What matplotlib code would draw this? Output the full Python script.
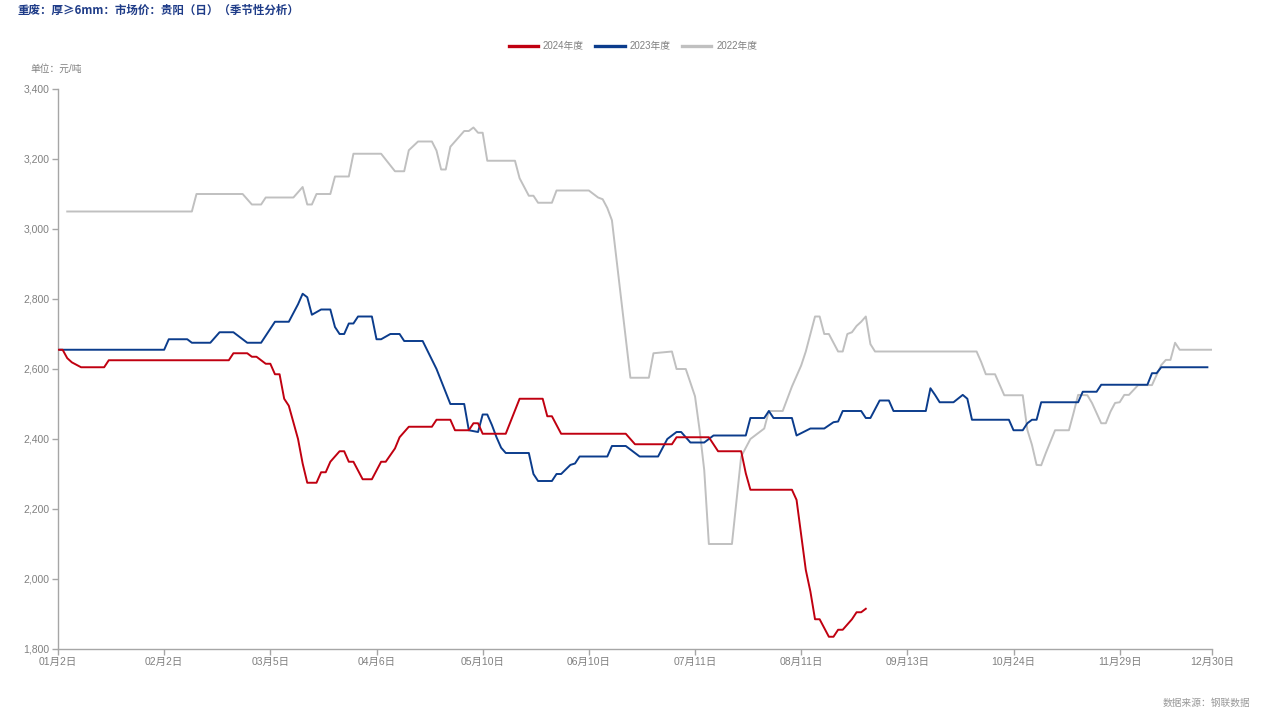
import matplotlib
matplotlib.use("Agg")
import matplotlib.pyplot as plt
from matplotlib.ticker import FuncFormatter

plt.rcParams['font.family'] = ['Liberation Sans', 'Noto Sans CJK SC']

# 交易日序号（0 = 01月2日）和价格（元/吨）
days_2024 = [0, 1, 2, 3, 5, 10, 11, 37, 38, 41, 42, 43, 45, 46, 47, 48, 49, 50, 52, 53, 54,
             56, 57, 58, 59, 61, 62, 63, 64, 66, 68, 70, 71, 73, 74, 76, 81, 82, 85, 86, 89,
             90, 91, 92, 97, 100, 105, 106, 107, 109, 123, 125, 133, 134, 141, 142, 143, 148,
             149, 150, 159, 160, 162, 163, 164, 165, 167, 168, 169, 170, 172, 173, 174, 175]
price_2024 = [2655, 2655, 2631, 2619, 2605, 2605, 2625, 2625, 2645, 2645, 2635, 2635, 2615, 2615,
              2585, 2585, 2515, 2495, 2400, 2330, 2275, 2275, 2305, 2305, 2335, 2365, 2365, 2335,
              2335, 2285, 2285, 2335, 2335, 2373, 2405, 2435, 2435, 2455, 2455, 2425, 2425, 2445,
              2445, 2415, 2415, 2515, 2515, 2465, 2465, 2415, 2415, 2385, 2385, 2405, 2405, 2385,
              2365, 2365, 2302, 2255, 2255, 2226, 2026, 1964, 1885, 1885, 1835, 1835, 1855, 1855,
              1885, 1905, 1905, 1915]

days_2023 = [0, 23, 24, 28, 29, 33, 35, 38, 41, 44, 47, 50, 52, 53, 54, 55, 57, 59, 60, 61, 62,
             63, 64, 65, 68, 69, 70, 72, 74, 75, 79, 82, 85, 88, 89, 91, 92, 93, 94, 95, 96, 97,
             102, 103, 104, 107, 108, 109, 111, 112, 113, 119, 120, 123, 126, 130, 132, 134, 135,
             137, 140, 142, 149, 150, 153, 154, 155, 159, 160, 163, 166, 168, 169, 170, 174, 175,
             176, 178, 180, 181, 188, 189, 190, 191, 194, 196, 197, 198, 206, 207, 209, 210, 211,
             212, 213, 221, 222, 225, 226, 236, 237, 238, 239, 249]
price_2023 = [2655, 2655, 2685, 2685, 2675, 2675, 2705, 2705, 2675, 2675, 2735, 2735, 2785, 2815,
              2805, 2755, 2770, 2770, 2720, 2700, 2700, 2730, 2730, 2750, 2750, 2685, 2685, 2700,
              2700, 2680, 2680, 2600, 2500, 2500, 2425, 2420, 2470, 2470, 2440, 2405, 2375, 2360,
              2360, 2300, 2280, 2280, 2300, 2300, 2326, 2330, 2350, 2350, 2380, 2380, 2350, 2350,
              2400, 2420, 2420, 2390, 2390, 2410, 2410, 2460, 2460, 2480, 2460, 2460, 2410, 2430,
              2430, 2448, 2450, 2480, 2480, 2460, 2460, 2510, 2510, 2480, 2480, 2545, 2526, 2505,
              2505, 2526, 2515, 2455, 2455, 2425, 2425, 2445, 2455, 2455, 2505, 2505, 2535, 2535,
              2555, 2555, 2588, 2588, 2605, 2605]

days_2022 = [2, 29, 30, 40, 42, 44, 45, 51, 53, 54, 55, 56, 59, 60, 63, 64, 70, 73, 75, 76, 78,
             81, 82, 83, 84, 85, 86, 88, 89, 90, 91, 92, 93, 99, 100, 102, 103, 104, 107, 108,
             115, 117, 118, 119, 120, 124, 128, 129, 133, 134, 136, 138, 139, 140, 141, 146, 148,
             150, 153, 154, 157, 159, 161, 162, 164, 165, 166, 167, 169, 170, 171, 172, 173, 174,
             175, 176, 177, 199, 200, 201, 203, 204, 205, 209, 210, 211, 212, 213, 214, 216, 219,
             220, 221, 223, 224, 226, 227, 228, 229, 230, 231, 232, 234, 237, 238, 239, 240, 241,
             242, 243, 250]
price_2022 = [3050, 3050, 3100, 3100, 3070, 3070, 3090, 3090, 3120, 3070, 3070, 3100, 3100, 3150,
              3150, 3215, 3215, 3165, 3165, 3225, 3250, 3250, 3224, 3170, 3170, 3235, 3250, 3280,
              3280, 3290, 3275, 3275, 3195, 3195, 3145, 3095, 3095, 3075, 3075, 3110, 3110, 3090,
              3085, 3060, 3025, 2575, 2575, 2645, 2650, 2600, 2600, 2522, 2425, 2311, 2100, 2100,
              2350, 2400, 2430, 2480, 2480, 2550, 2610, 2650, 2750, 2750, 2700, 2700, 2650, 2650,
              2700, 2705, 2723, 2735, 2750, 2671, 2650, 2650, 2620, 2585, 2585, 2555, 2525, 2525,
              2426, 2383, 2326, 2325, 2360, 2425, 2425, 2474, 2526, 2525, 2503, 2445, 2445, 2478,
              2503, 2505, 2526, 2526, 2554, 2554, 2583, 2611, 2626, 2626, 2675, 2655, 2655]

tick_days = [0, 23, 46, 69, 92, 115, 138, 161, 184, 207, 230, 250]
tick_labels = ['01月2日', '02月2日', '03月5日', '04月6日', '05月10日', '06月10日',
               '07月11日', '08月11日', '09月13日', '10月24日', '11月29日', '12月30日']

W, H = 1265, 717
fig = plt.figure(figsize=(W / 100, H / 100), dpi=100)
ax = fig.add_axes([58 / W, (H - 649) / H, (1212 - 58) / W, (649 - 89) / H])

ax.plot(days_2022, price_2022, color='#C0C0C0', lw=1.4, label='2022年度', zorder=1)
ax.plot(days_2023, price_2023, color='#0B3C8C', lw=1.4, label='2023年度', zorder=2)
ax.plot(days_2024, price_2024, color='#C00010', lw=1.4, label='2024年度', zorder=3)

ax.set_xlim(0, 250)
ax.set_ylim(1800, 3400)
ax.set_yticks(range(1800, 3401, 200))
ax.yaxis.set_major_formatter(FuncFormatter(lambda v, p: f'{int(v):,}'))
ax.set_xticks(tick_days)
ax.set_xticklabels(tick_labels)

for s in ['top', 'right']:
    ax.spines[s].set_visible(False)
for s in ['left', 'bottom']:
    ax.spines[s].set_color('#A6A6A6')
    ax.spines[s].set_linewidth(1.0)
ax.tick_params(axis='both', colors='#A6A6A6', labelcolor='#808080', labelsize=7.5,
               length=4, width=1, direction='out', pad=2)

h, l = ax.get_legend_handles_labels()
order = [2, 1, 0]
leg = fig.legend([h[i] for i in order], [l[i] for i in order], loc='center',
                 bbox_to_anchor=(633 / W, 1 - 46 / H), ncol=3, frameon=False,
                 fontsize=7, handlelength=3.0, columnspacing=1.2, handletextpad=0.5)
for t in leg.get_texts():
    t.set_color('#808080')
for ln in leg.get_lines():
    ln.set_linewidth(2.4)

fig.text(18 / W, 1 - 10 / H, '重废：厚≥6mm：市场价：贵阳（日）（季节性分析）',
         family=['Noto Sans CJK SC', 'DejaVu Sans'], fontsize=8.3, fontweight='bold',
         color='#1F3C88', ha='left', va='center')
fig.text(30 / W, 1 - 69 / H, '单位：元/吨', fontsize=7, color='#808080',
         ha='left', va='center')
fig.text(1250 / W, 1 - 703 / H, '数据来源：钢联数据', fontsize=7, color='#999999',
         ha='right', va='center')

fig.savefig('out.png', dpi=100)
